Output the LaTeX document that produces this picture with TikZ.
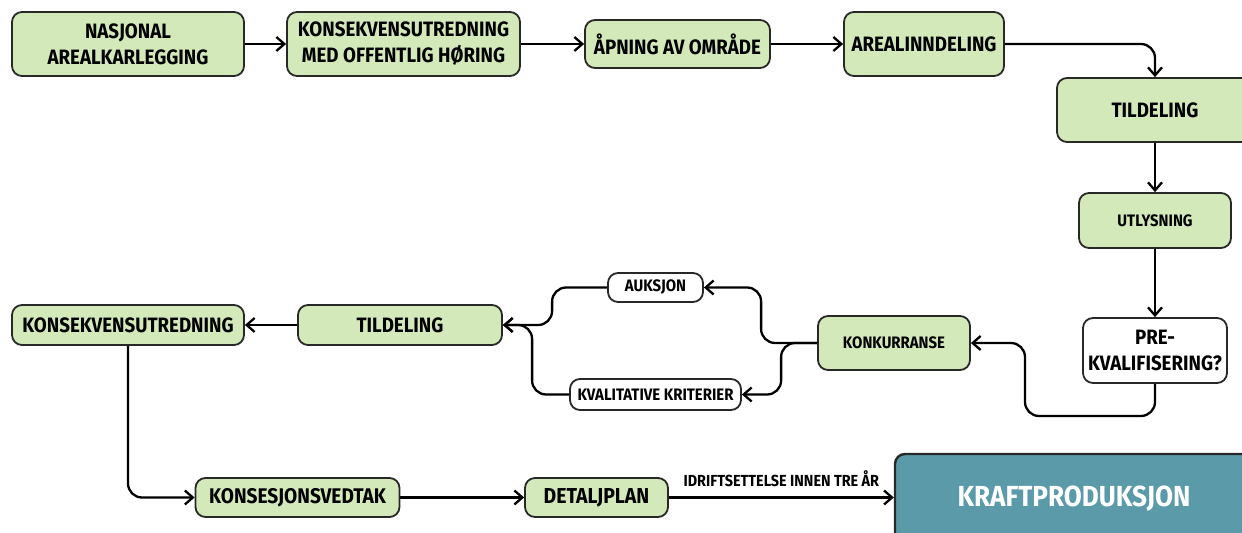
\documentclass[tikz,border=0pt]{standalone}
\usepackage{fontspec}
\setmainfont{Fira Sans}[FakeStretch=0.9]
\usetikzlibrary{positioning,arrows.meta}
\definecolor{lysgronn}{RGB}{211,233,186}
\definecolor{kraftblaa}{RGB}{91,154,169}
\definecolor{kant}{RGB}{40,40,40}
\tikzset{
	%Define standard arrow tip
	>={Straight Barb[length=4pt,width=7pt]},
	%Define style for boxes
	boks/.style={
		rectangle,
		rounded corners=5pt,
		draw=kant, line width=0.9pt,
		fill=lysgronn,
		align=center,
		inner sep=2pt,
		font=\bfseries\fontsize{10.4}{13}\selectfont},
	hvit/.style={boks, fill=white},
	liten/.style={font=\bfseries\fontsize{8.3}{10}\selectfont},
	nede/.style={font=\bfseries\fontsize{10.4}{12}\selectfont},
	% Define arrow style
	pil/.style={
		->,
		line width=1.15pt,
		rounded corners=7pt}
}

\begin{document}
\begin{tikzpicture}[x=0.5pt,y=-0.5pt]
	\useasboundingbox (0,0) rectangle (1242,533);
	% top row
	\node[boks,minimum width=116pt,minimum height=32pt] (nasjonal) at (128,44) {NASJONAL\\AREALKARLEGGING};
	\node[boks,minimum width=116.5pt,minimum height=32pt] (konsekvens) at (403.5,44) {KONSEKVENSUTREDNING\\MED OFFENTLIG HØRING};
	\node[boks,minimum width=92.5pt,minimum height=24pt] (aapning) at (677.5,44) {ÅPNING AV OMRÅDE};
	\node[boks,minimum width=80pt,minimum height=32pt] (areal) at (924,44) {AREALINNDELING};
	% right column
	\node[boks,minimum width=98pt,minimum height=32pt] (tildeling) at (1155,110) {TILDELING};
	\node[boks,liten,minimum width=76pt,minimum height=27.5pt] (utlysning) at (1155,220.5) {UTLYSNING};
	\node[hvit,minimum width=72pt,minimum height=32.5pt,inner sep=1pt] (prekval) at (1155,350.5) {PRE-\\KVALIFISERING?};
	% middle row
	\node[boks,liten,minimum width=76pt,minimum height=27pt] (konkurranse) at (894,343) {KONKURRANSE};
	\node[hvit,liten,minimum width=47.5pt,minimum height=14.5pt,inner sep=1pt] (auksjon) at (655.5,287.5) {AUKSJON};
	\node[hvit,liten,minimum width=85.5pt,minimum height=15.5pt,inner sep=1pt] (kvalitativ) at (655.5,394.5) {KVALITATIVE KRITERIER};
	\node[boks,nede,minimum width=102pt,minimum height=20pt] (tildeling2) at (400,325) {TILDELING};
	\node[boks,nede,minimum width=116pt,minimum height=20pt] (konsekvens2) at (128,325) {KONSEKVENSUTREDNING};
	% bottom row
	\node[boks,nede,font=\bfseries\fontsize{10.6}{12}\selectfont,minimum width=102pt,minimum height=19.5pt] (konsesjon) at (297.5,497.5) {KONSESJONSVEDTAK};
	\node[boks,nede,font=\bfseries\fontsize{10.8}{12}\selectfont,minimum width=71.5pt,minimum height=19.5pt] (detaljplan) at (596.5,497.5) {DETALJPLAN};
	\node[boks,fill=kraftblaa,text=white,line width=1.2pt,font=\bfseries\fontsize{14.5}{16}\selectfont,minimum width=179pt,minimum height=45pt] (kraft) at (1074,499) {KRAFTPRODUKSJON};
	\coordinate (sving) at (1025,416);
	% connectors
	\draw[pil] (nasjonal) -- (konsekvens);
	\draw[pil] (konsekvens) -- (aapning);
	\draw[pil] (aapning) -- (areal);
	\draw[pil] (areal.east) -| (tildeling.north);
	\draw[pil] (tildeling) -- (utlysning);
	\draw[pil] (utlysning) -- (prekval);
	\draw[pil] (prekval.south) |- (sving) |- (konkurranse.east);
	\draw[pil] (konkurranse.west) -- ++(-56,0) |- (auksjon.east);
	\draw[pil] (konkurranse.west) -- ++(-36,0) |- (kvalitativ.east);
	\draw[pil] (auksjon.west) -- ++(-55,0) |- (tildeling2.east);
	\draw[pil] (kvalitativ.west) -- ++(-37,0) |- (tildeling2.east);
	\draw[pil] (tildeling2) -- (konsekvens2);
	\draw[pil] (konsekvens2.south) |- (konsesjon.west);
	\draw[pil] (konsesjon) -- (detaljplan);
	\draw[pil] (detaljplan.east) -- (detaljplan -| kraft.west)
		node[midway,above=1.5pt,font=\bfseries\fontsize{8}{9}\selectfont] {IDRIFTSETTELSE INNEN TRE ÅR};
\end{tikzpicture}
\end{document}
